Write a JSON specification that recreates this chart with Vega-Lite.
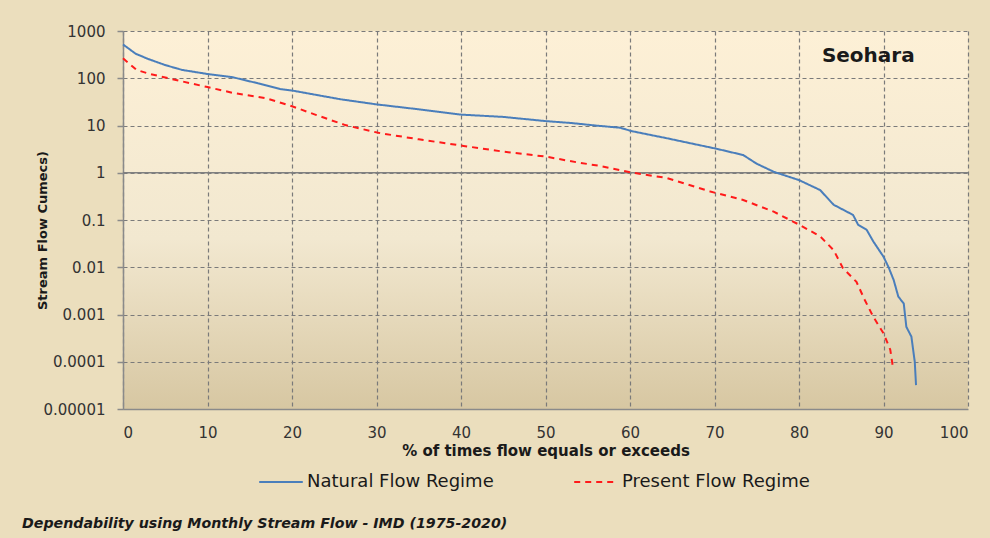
{
  "$schema": "https://vega.github.io/schema/vega-lite/v6.json",
  "width": 845,
  "height": 378,
  "autosize": {"type": "none"},
  "padding": {"left": 123, "top": 31, "right": 22, "bottom": 129},
  "background": "#ebdebd",
  "title": {
    "text": "Dependability using Monthly Stream Flow - IMD (1975-2020)",
    "orient": "bottom",
    "anchor": "start",
    "frame": "group",
    "dx": -101,
    "offset": 26,
    "font": "DejaVu Sans",
    "fontSize": 14.2,
    "fontStyle": "italic",
    "fontWeight": "bold",
    "color": "#1a1a1a"
  },
  "datasets": {
    "flow": [
      {"series": "Natural Flow Regime", "pct": 0, "flow": 520},
      {"series": "Natural Flow Regime", "pct": 1.5, "flow": 330},
      {"series": "Natural Flow Regime", "pct": 3, "flow": 255},
      {"series": "Natural Flow Regime", "pct": 5, "flow": 190},
      {"series": "Natural Flow Regime", "pct": 7, "flow": 150},
      {"series": "Natural Flow Regime", "pct": 10, "flow": 123},
      {"series": "Natural Flow Regime", "pct": 13, "flow": 105},
      {"series": "Natural Flow Regime", "pct": 16, "flow": 78},
      {"series": "Natural Flow Regime", "pct": 18.6, "flow": 59},
      {"series": "Natural Flow Regime", "pct": 20, "flow": 55},
      {"series": "Natural Flow Regime", "pct": 23, "flow": 44},
      {"series": "Natural Flow Regime", "pct": 25.7, "flow": 36},
      {"series": "Natural Flow Regime", "pct": 30, "flow": 28},
      {"series": "Natural Flow Regime", "pct": 35, "flow": 22},
      {"series": "Natural Flow Regime", "pct": 40, "flow": 17},
      {"series": "Natural Flow Regime", "pct": 45, "flow": 15.2},
      {"series": "Natural Flow Regime", "pct": 50, "flow": 12.4},
      {"series": "Natural Flow Regime", "pct": 53, "flow": 11.3},
      {"series": "Natural Flow Regime", "pct": 56.4, "flow": 9.8},
      {"series": "Natural Flow Regime", "pct": 58.8, "flow": 9.0},
      {"series": "Natural Flow Regime", "pct": 60.2, "flow": 7.6},
      {"series": "Natural Flow Regime", "pct": 64.3, "flow": 5.4},
      {"series": "Natural Flow Regime", "pct": 70.3, "flow": 3.2},
      {"series": "Natural Flow Regime", "pct": 73.4, "flow": 2.37},
      {"series": "Natural Flow Regime", "pct": 75, "flow": 1.55},
      {"series": "Natural Flow Regime", "pct": 77, "flow": 1.05},
      {"series": "Natural Flow Regime", "pct": 80, "flow": 0.7},
      {"series": "Natural Flow Regime", "pct": 82.5, "flow": 0.43},
      {"series": "Natural Flow Regime", "pct": 84.1, "flow": 0.21},
      {"series": "Natural Flow Regime", "pct": 86.4, "flow": 0.128},
      {"series": "Natural Flow Regime", "pct": 87, "flow": 0.079},
      {"series": "Natural Flow Regime", "pct": 88, "flow": 0.062},
      {"series": "Natural Flow Regime", "pct": 88.8, "flow": 0.035},
      {"series": "Natural Flow Regime", "pct": 90, "flow": 0.0167},
      {"series": "Natural Flow Regime", "pct": 90.6, "flow": 0.01},
      {"series": "Natural Flow Regime", "pct": 91.2, "flow": 0.0054},
      {"series": "Natural Flow Regime", "pct": 91.75, "flow": 0.0024},
      {"series": "Natural Flow Regime", "pct": 92.4, "flow": 0.0017},
      {"series": "Natural Flow Regime", "pct": 92.7, "flow": 0.00055},
      {"series": "Natural Flow Regime", "pct": 93.3, "flow": 0.00034},
      {"series": "Natural Flow Regime", "pct": 93.7, "flow": 0.0001},
      {"series": "Natural Flow Regime", "pct": 93.85, "flow": 0.000032},
      {"series": "Present Flow Regime", "pct": 0, "flow": 265},
      {"series": "Present Flow Regime", "pct": 1.6, "flow": 150},
      {"series": "Present Flow Regime", "pct": 3.2, "flow": 123},
      {"series": "Present Flow Regime", "pct": 7.1, "flow": 85},
      {"series": "Present Flow Regime", "pct": 10, "flow": 65},
      {"series": "Present Flow Regime", "pct": 13, "flow": 49},
      {"series": "Present Flow Regime", "pct": 17, "flow": 37.6},
      {"series": "Present Flow Regime", "pct": 20, "flow": 25.5},
      {"series": "Present Flow Regime", "pct": 22.9, "flow": 16.6},
      {"series": "Present Flow Regime", "pct": 26.3, "flow": 10.2},
      {"series": "Present Flow Regime", "pct": 30.2, "flow": 7.0},
      {"series": "Present Flow Regime", "pct": 35, "flow": 5.1},
      {"series": "Present Flow Regime", "pct": 40.3, "flow": 3.7},
      {"series": "Present Flow Regime", "pct": 45, "flow": 2.8},
      {"series": "Present Flow Regime", "pct": 50, "flow": 2.2},
      {"series": "Present Flow Regime", "pct": 54, "flow": 1.63},
      {"series": "Present Flow Regime", "pct": 56.4, "flow": 1.4},
      {"series": "Present Flow Regime", "pct": 60.3, "flow": 1.0},
      {"series": "Present Flow Regime", "pct": 64.3, "flow": 0.78},
      {"series": "Present Flow Regime", "pct": 69.5, "flow": 0.4},
      {"series": "Present Flow Regime", "pct": 73.4, "flow": 0.265},
      {"series": "Present Flow Regime", "pct": 77, "flow": 0.15},
      {"series": "Present Flow Regime", "pct": 80, "flow": 0.08},
      {"series": "Present Flow Regime", "pct": 82.5, "flow": 0.045},
      {"series": "Present Flow Regime", "pct": 84.1, "flow": 0.023},
      {"series": "Present Flow Regime", "pct": 85.2, "flow": 0.0096},
      {"series": "Present Flow Regime", "pct": 86.8, "flow": 0.0049},
      {"series": "Present Flow Regime", "pct": 87.8, "flow": 0.002},
      {"series": "Present Flow Regime", "pct": 88.8, "flow": 0.00089},
      {"series": "Present Flow Regime", "pct": 90, "flow": 0.0004},
      {"series": "Present Flow Regime", "pct": 90.8, "flow": 0.00018},
      {"series": "Present Flow Regime", "pct": 91.1, "flow": 0.00008}
    ]
  },
  "layer": [
    {
      "data": {"values": [{"v": 1}]},
      "mark": {"type": "rule", "color": "#808080", "strokeWidth": 1.5},
      "encoding": {
        "y": {"field": "v", "type": "quantitative", "scale": {"type": "log", "domain": [0.00001, 1000]}}
      }
    },
    {
      "data": {"name": "flow"},
      "mark": {"type": "line", "strokeWidth": 2, "interpolate": "linear"},
      "encoding": {
        "x": {
          "field": "pct",
          "type": "quantitative",
          "scale": {"domain": [0, 100], "nice": false},
          "axis": {
            "title": "%  of times flow equals or exceeds",
            "values": [0, 10, 20, 30, 40, 50, 60, 70, 80, 90, 100],
            "ticks": false,
            "labelPadding": 16,
            "titlePadding": 3
          }
        },
        "y": {
          "field": "flow",
          "type": "quantitative",
          "scale": {"type": "log", "domain": [0.00001, 1000], "nice": false},
          "axis": {
            "title": "Stream Flow Cumecs)",
            "titleFontSize": 13,
            "values": [0.00001, 0.0001, 0.001, 0.01, 0.1, 1, 10, 100, 1000],
            "format": ".5~f",
            "ticks": true,
            "tickSize": 6,
            "labelPadding": 12,
            "titleX": -81,
            "titleY": 199,
            "titleAngle": -90,
            "titleAlign": "center",
            "titleBaseline": "middle"
          }
        },
        "color": {
          "field": "series",
          "type": "nominal",
          "scale": {"domain": ["Natural Flow Regime", "Present Flow Regime"], "range": ["#4a7ebb", "#ff1a1a"]},
          "legend": {
            "title": null,
            "orient": "none",
            "direction": "horizontal",
            "legendX": 135,
            "legendY": 428,
            "symbolType": "stroke",
            "symbolSize": 1900,
            "symbolStrokeWidth": 2,
            "labelFont": "DejaVu Sans",
            "labelFontSize": 18,
            "labelColor": "#1a1a1a",
            "labelOffset": 3,
            "labelLimit": 0,
            "columnPadding": 76,
            "padding": 0
          }
        },
        "strokeDash": {
          "field": "series",
          "type": "nominal",
          "scale": {"domain": ["Natural Flow Regime", "Present Flow Regime"], "range": [[1, 0], [6, 5]]},
          "legend": {
            "title": null,
            "orient": "none",
            "direction": "horizontal",
            "legendX": 135,
            "legendY": 428,
            "symbolType": "stroke",
            "symbolSize": 1900,
            "symbolStrokeWidth": 2,
            "labelFont": "DejaVu Sans",
            "labelFontSize": 18,
            "labelColor": "#1a1a1a",
            "labelOffset": 3,
            "labelLimit": 0,
            "columnPadding": 76,
            "padding": 0
          }
        }
      }
    },
    {
      "data": {"values": [{"label": "Seohara"}]},
      "mark": {"type": "text", "font": "DejaVu Sans", "fontSize": 20, "fontWeight": "bold", "color": "#1a1a1a", "align": "center", "baseline": "middle"},
      "encoding": {
        "x": {"datum": 88.2, "type": "quantitative"},
        "y": {"datum": 290, "type": "quantitative"},
        "text": {"field": "label"}
      }
    }
  ],
  "config": {
    "view": {
      "stroke": null,
      "fill": {
        "gradient": "linear",
        "x1": 0, "y1": 0, "x2": 0, "y2": 1,
        "stops": [
          {"offset": 0, "color": "#fdf0d6"},
          {"offset": 0.55, "color": "#f2e8d0"},
          {"offset": 1, "color": "#d7c7a2"}
        ]
      }
    },
    "axis": {
      "labelFont": "DejaVu Sans",
      "labelFontSize": 15,
      "labelColor": "#333333",
      "titleFont": "DejaVu Sans",
      "titleFontSize": 15,
      "titleFontWeight": "bold",
      "titleColor": "#1a1a1a",
      "domainColor": "#8a8a8a",
      "domainWidth": 1.5,
      "tickColor": "#8a8a8a",
      "tickWidth": 1.5,
      "grid": true,
      "gridColor": "#7a7a7a",
      "gridDash": [4, 3],
      "gridWidth": 1.2,
      "gridOpacity": 1
    }
  }
}
